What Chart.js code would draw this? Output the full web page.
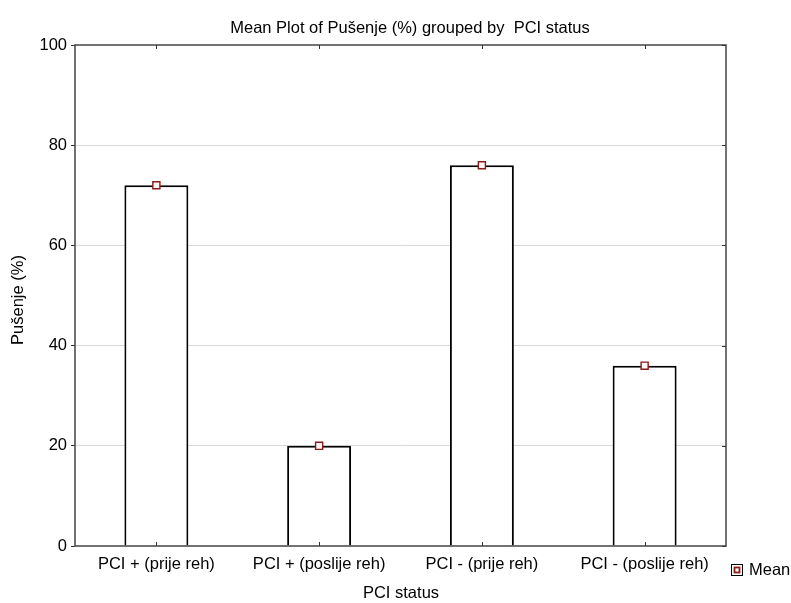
<!DOCTYPE html>
<html><head><meta charset="utf-8">
<script src="https://cdn.jsdelivr.net/npm/chart.js@4"></script>
<style>html,body{margin:0;padding:0;background:#fff}#w{width:791px;height:603px}</style>
</head><body><div id="w"><canvas id="c" width="791" height="603"></canvas></div>
<script>
const categories = ["PCI + (prije reh)", "PCI + (poslije reh)", "PCI - (prije reh)", "PCI - (poslije reh)"];
const meanValues = [72, 20, 76, 36];
const yTicks = [0, 20, 40, 60, 80, 100];
const chartTitle = "Mean Plot of Pušenje (%) grouped by  PCI status";
const yTitle = "Pušenje (%)";
const xTitle = "PCI status";
const legendLabel = "Mean";

const FONT = "Arial, 'Liberation Sans', sans-serif";
const FS = 16.5;
const marker = "#8b1a1a";

const deco = {
  id: 'deco',
  afterDraw(chart) {
    const {ctx, chartArea: a, scales} = chart;
    ctx.save();
    // frame
    ctx.strokeStyle = '#444';
    ctx.lineWidth = 1.5;
    ctx.strokeRect(a.left, a.top, a.right - a.left, a.bottom - a.top);
    ctx.lineWidth = 1;
    ctx.strokeStyle = '#333';
    // category ticks inward at top and bottom
    categories.forEach((c, i) => {
      const x = Math.round(scales.x.getPixelForValue(i)) + 0.5;
      ctx.beginPath();
      ctx.moveTo(x, a.top); ctx.lineTo(x, a.top + 4);
      ctx.moveTo(x, a.bottom); ctx.lineTo(x, a.bottom - 4);
      ctx.stroke();
    });
    // right side inward ticks
    yTicks.forEach(v => {
      const y = Math.round(scales.y.getPixelForValue(v)) + 0.5;
      ctx.beginPath();
      ctx.moveTo(a.right, y); ctx.lineTo(a.right - 4, y);
      ctx.stroke();
    });
    // texts
    ctx.fillStyle = '#000';
    ctx.textAlign = 'center';
    ctx.textBaseline = 'middle';
    ctx.font = FS + "px " + FONT;
    ctx.fillText(chartTitle, 410, 28);
    ctx.fillText(xTitle, 401, 593);
    ctx.save();
    ctx.translate(18, 300);
    ctx.rotate(-Math.PI / 2);
    ctx.fillText(yTitle, 0, 0);
    ctx.restore();
    // legend
    ctx.fillStyle = '#fff';
    ctx.strokeStyle = '#000';
    ctx.lineWidth = 1;
    ctx.fillRect(731.5, 564.5, 11, 11);
    ctx.strokeRect(731.5, 564.5, 11, 11);
    ctx.strokeStyle = marker;
    ctx.lineWidth = 1.8;
    ctx.strokeRect(734.5, 567.5, 5, 5);
    ctx.fillStyle = '#000';
    ctx.textAlign = 'left';
    ctx.fillText(legendLabel, 749, 570);
    ctx.restore();
  }
};

new Chart(document.getElementById('c'), {
  data: {
    labels: categories,
    datasets: [
      {
        type: 'line',
        data: meanValues,
        showLine: false,
        pointStyle: 'rect',
        pointRadius: 5,
        pointBorderColor: marker,
        pointBackgroundColor: '#fff5f5',
        pointBorderWidth: 1.4,
        order: 0
      },
      {
        type: 'bar',
        data: meanValues,
        backgroundColor: '#ffffff',
        borderColor: '#000000',
        borderWidth: 2,
        barPercentage: 0.393,
        categoryPercentage: 1,
        order: 1
      }
    ]
  },
  options: {
    responsive: false,
    animation: false,
    devicePixelRatio: 1,
    layout: {padding: {top: 45, right: 65, left: 0, bottom: 0}},
    plugins: {legend: {display: false}, tooltip: {enabled: false}, title: {display: false}},
    scales: {
      x: {
        type: 'category',
        offset: true,
        grid: {display: false, drawTicks: false},
        border: {display: false},
        ticks: {color: '#000', font: {size: FS, family: FONT}, padding: 9, maxRotation: 0, autoSkip: false},
        afterFit(s) { s.height = 57; }
      },
      y: {
        min: 0, max: 100,
        afterBuildTicks(s) { s.ticks = yTicks.map(v => ({value: v})); },
        grid: {
          color: ctx => (ctx.tick && (ctx.tick.value === 0 || ctx.tick.value === 100)) ? 'rgba(0,0,0,0)' : '#d9d9d9',
          tickColor: '#333',
          tickLength: 4,
          drawTicks: true
        },
        border: {display: false},
        ticks: {color: '#000', font: {size: FS, family: FONT}, padding: 4},
        afterFit(s) { s.width = 75; }
      }
    }
  },
  plugins: [deco]
});
</script>
</body></html>
